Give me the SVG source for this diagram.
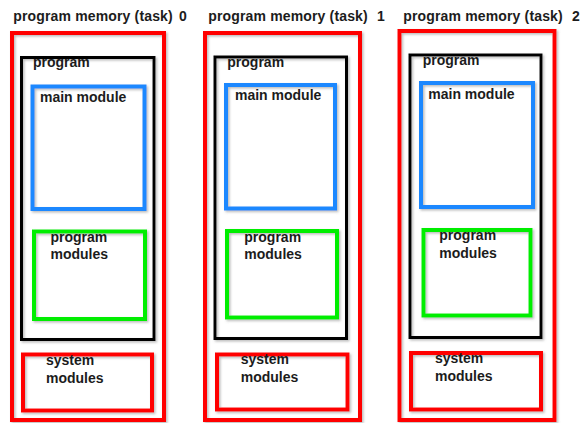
<svg xmlns="http://www.w3.org/2000/svg" width="587" height="423" viewBox="0 0 587 423">
  <defs>
    <filter id="shade" x="-5%" y="-5%" width="115%" height="115%">
      <feDropShadow dx="1.5" dy="1.5" stdDeviation="0.8" flood-color="#777" flood-opacity="0.5"/>
    </filter>
  </defs>
  <style>
    rect { fill: none; filter: url(#shade); }
    .memory { stroke: #ff0000; stroke-width: 4; }
    .program { stroke: #000000; stroke-width: 3; }
    .main { stroke: #1e88ff; stroke-width: 4; }
    .modules { stroke: #00ee00; stroke-width: 4; }
    .system { stroke: #ff0000; stroke-width: 4; }
    text { font-family: "Liberation Sans", Arial, sans-serif; font-weight: bold; font-size: 14px; fill: #1c1c1c; }
    .title { letter-spacing: 0.15px; }
  </style>

  <rect width="587" height="423" fill="#ffffff" style="filter:none" />

  <!-- task 0 -->
  <g id="task0">
    <text class="title" x="13.3" y="21">program memory (task)<tspan x="179">0</tspan></text>
    <rect class="memory" x="12" y="33" width="152" height="387"/>
    <g id="task0-program">
      <rect class="program" x="21.5" y="57.5" width="132.5" height="282"/>
      <text x="33" y="67">program</text>
    </g>
    <g id="task0-main">
      <rect class="main" x="32.5" y="86.5" width="112" height="122.5"/>
      <text x="40" y="101.5">main module</text>
    </g>
    <g id="task0-modules">
      <rect class="modules" x="34" y="231.5" width="111" height="87.5"/>
      <text x="50.5" y="242">program</text>
      <text x="50.5" y="259">modules</text>
    </g>
    <g id="task0-system">
      <rect class="system" x="23" y="354.5" width="129" height="56"/>
      <text x="46" y="365">system</text>
      <text x="46" y="383">modules</text>
    </g>
  </g>

  <!-- task 1 -->
  <g id="task1">
    <text class="title" x="208.3" y="21">program memory (task)<tspan x="377">1</tspan></text>
    <rect class="memory" x="205" y="33" width="155" height="387"/>
    <g id="task1-program">
      <rect class="program" x="215" y="57" width="131.5" height="281.5"/>
      <text x="227.3" y="66.5">program</text>
    </g>
    <g id="task1-main">
      <rect class="main" x="226" y="85" width="109" height="123.5"/>
      <text x="235" y="100">main module</text>
    </g>
    <g id="task1-modules">
      <rect class="modules" x="227" y="231" width="110" height="86.5"/>
      <text x="244.3" y="241.7">program</text>
      <text x="244.3" y="259.3">modules</text>
    </g>
    <g id="task1-system">
      <rect class="system" x="217" y="354.5" width="130.5" height="55"/>
      <text x="240.7" y="364.3">system</text>
      <text x="240.7" y="381.7">modules</text>
    </g>
  </g>

  <!-- task 2 -->
  <g id="task2">
    <text class="title" x="403.3" y="20.5">program memory (task)<tspan x="572">2</tspan></text>
    <rect class="memory" x="399.5" y="31" width="155" height="389"/>
    <g id="task2-program">
      <rect class="program" x="410" y="55" width="131" height="282.5"/>
      <text x="422.7" y="64.5">program</text>
    </g>
    <g id="task2-main">
      <rect class="main" x="421" y="83" width="112" height="124"/>
      <text x="428.3" y="98.5">main module</text>
    </g>
    <g id="task2-modules">
      <rect class="modules" x="423.5" y="230" width="107" height="85.5"/>
      <text x="439.3" y="240.3">program</text>
      <text x="439.3" y="258.3">modules</text>
    </g>
    <g id="task2-system">
      <rect class="system" x="411" y="353" width="130" height="56.5"/>
      <text x="435" y="363.3">system</text>
      <text x="435" y="381">modules</text>
    </g>
  </g>
</svg>
